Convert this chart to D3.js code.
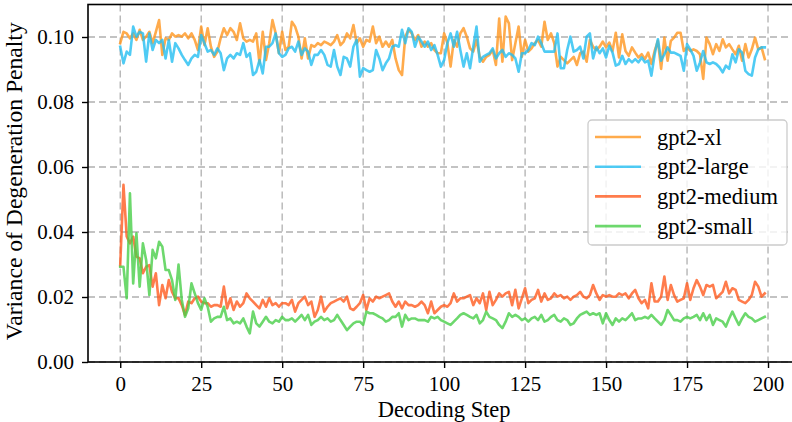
<!DOCTYPE html>
<html>
<head>
<meta charset="utf-8">
<script src="https://cdn.jsdelivr.net/npm/d3@7"></script>
<style>
  html, body { margin: 0; padding: 0; background: #fff; }
  svg { display: block; }
  text { font-family: "Liberation Serif", "Times New Roman", serif; fill: #000; }
</style>
</head>
<body>
<svg id="chart" width="792" height="422"></svg>
<script>
// ---------------- data ----------------
const seriesNames = ["gpt2-xl", "gpt2-large", "gpt2-medium", "gpt2-small"];
const xTicks = [0, 25, 50, 75, 100, 125, 150, 175, 200];
const yTicks = [0.00, 0.02, 0.04, 0.06, 0.08, 0.10];
const xLabel = "Decoding Step";
const yLabel = "Variance of Degeneration Penalty";

const gpt2XL = [
  0.0981,0.1016,0.1011,0.0996,0.1011,0.0991,0.1022,0.0991,0.1001,0.1016,
  0.0981,0.1016,0.1052,0.0945,0.0996,0.0991,0.1011,0.1001,0.1006,0.1001,
  0.1011,0.0996,0.1011,0.0991,0.0960,0.1032,0.0975,0.1027,0.0970,0.0939,
  0.0955,0.0996,0.1027,0.1006,0.1027,0.1016,0.0991,0.1042,0.0996,0.0986,
  0.0991,0.0986,0.1011,0.0919,
  0.1016,0.0929,0.0981,0.1052,0.1011,0.0950,0.1016,0.0960,0.0970,0.1047,
  0.1032,0.1001,0.0934,0.0996,0.0934,0.0975,0.0970,0.0981,0.0975,0.0986,
  0.0981,0.0975,0.0986,0.1006,0.0975,0.0986,0.1011,0.0996,0.1037,0.0981,
  0.0996,0.0970,0.0991,0.0986,0.1032,0.0981,0.1001,0.0970,0.0986,0.0970,
  0.0991,0.0934,0.0898,0.0883,0.1001,0.1022,0.1011,0.0991,0.1006,0.0970,
  0.0986,0.0970,0.0981,
  0.0960,0.0950,0.0950,0.1011,0.0981,0.0909,0.0991,0.0970,0.1011,0.1027,
  0.1001,0.0965,0.0955,0.0991,0.0939,0.0924,0.0939,0.0945,0.0960,0.0914,
  0.1057,0.0924,0.1063,0.1042,0.0929,0.0981,0.1032,0.0939,0.0991,0.0955,
  0.0965,0.0981,0.0991,0.0970,0.1047,0.0991,0.1011,0.0981,0.0909,0.0939,
  0.0929,0.0919,0.0929,0.0939,0.0914,0.0950,0.0955,0.0924,0.0991,0.0970,
  0.0960,0.0970,0.0986,
  0.0968,0.0983,0.0957,0.1013,0.0937,0.1008,0.0957,0.0942,0.0968,0.0952,
  0.0937,0.0947,0.0932,0.0952,0.0917,0.0957,0.0988,0.0902,0.0998,0.0927,
  0.0988,0.0998,0.1013,0.1013,0.0957,0.0968,0.0957,0.0962,0.0957,0.0947,
  0.0871,0.0998,0.0978,0.0947,0.0978,0.0957,0.0993,0.0968,0.0978,0.0962,
  0.0947,0.0973,0.0927,0.0978,0.0937,0.0962,0.0998,0.0962,0.0968,0.0932
];

const gpt2Large = [
  0.0970,0.0919,0.0955,0.0945,0.1032,0.1001,0.1016,0.1011,0.0924,0.1011,
  0.0960,0.0991,0.0981,0.0991,0.0934,0.0991,0.0924,0.0981,0.0965,0.0945,
  0.0929,0.0914,0.0934,0.0945,0.0939,0.1006,0.0981,0.0955,0.0960,0.0945,
  0.0965,0.0950,0.0898,0.0934,0.0945,0.0934,0.0950,0.0945,0.0981,0.0939,
  0.0950,0.0883,0.0893,0.0929,
  0.0888,0.0970,0.0970,0.0981,0.1011,0.0950,0.0939,0.0945,0.0965,0.0970,
  0.0955,0.0986,0.0945,0.0965,0.0955,0.0914,0.0945,0.0945,0.0960,0.0945,
  0.0914,0.0909,0.0960,0.0909,0.0883,0.0939,0.0934,0.0909,0.0970,0.0991,
  0.0878,0.0904,0.0898,0.0893,0.0898,0.0960,0.0934,0.0898,0.0919,0.0934,
  0.0970,0.0975,0.0970,0.1022,0.0981,0.1027,0.1016,0.0970,0.1001,0.0986,
  0.0970,0.0986,0.0960,
  0.0975,0.0945,0.0909,0.0929,0.0981,0.1011,0.0970,0.1016,0.0960,0.0909,
  0.0950,0.0904,0.0970,0.1032,0.0924,0.0939,0.0945,0.0950,0.0965,0.0934,
  0.0950,0.0960,0.0939,0.0950,0.0945,0.0934,0.0893,0.0950,0.0950,0.0960,
  0.0981,0.0975,0.1001,0.0981,0.0955,0.0955,0.0955,0.0955,0.1011,0.0904,
  0.0904,0.0960,0.1001,0.0955,0.0960,0.0970,0.0934,0.1001,0.1011,0.0934,
  0.0970,0.0950,0.0965,
  0.0937,0.0973,0.0952,0.0912,0.0917,0.0942,0.0917,0.0932,0.0922,0.0932,
  0.0922,0.0937,0.0922,0.0927,0.0881,0.0947,0.0993,0.0927,0.0947,0.0968,
  0.0952,0.0952,0.0947,0.0942,0.0896,0.0978,0.0962,0.0942,0.0896,0.0922,
  0.0957,0.0922,0.0917,0.0922,0.0917,0.0907,0.0891,0.0912,0.0902,0.0947,
  0.0922,0.0962,0.0952,0.0896,0.0886,0.0881,0.0937,0.0962,0.0968,0.0968
];

const gpt2Medium = [
  0.0298,0.0545,0.0386,0.0365,0.0386,0.0324,0.0319,0.0273,0.0293,0.0298,
  0.0232,0.0273,0.0175,0.0237,0.0196,0.0252,0.0216,0.0196,0.0196,0.0175,
  0.0145,0.0186,0.0181,0.0196,0.0201,0.0186,0.0181,0.0181,0.0170,0.0175,
  0.0175,0.0170,0.0232,0.0165,0.0196,0.0160,0.0186,0.0170,0.0181,0.0211,
  0.0196,0.0186,0.0175,0.0165,
  0.0191,0.0170,0.0196,0.0175,0.0181,0.0170,0.0181,0.0181,0.0175,0.0191,
  0.0155,0.0181,0.0191,0.0201,0.0175,0.0186,0.0139,0.0160,0.0201,0.0155,
  0.0170,0.0181,0.0186,0.0191,0.0196,0.0186,0.0201,0.0165,0.0160,0.0170,
  0.0181,0.0206,0.0160,0.0196,0.0186,0.0201,0.0196,0.0201,0.0206,0.0211,
  0.0186,0.0170,0.0186,0.0165,0.0186,0.0175,0.0175,0.0170,0.0175,0.0186,
  0.0175,0.0150,0.0186,
  0.0150,0.0160,0.0170,0.0175,0.0170,0.0181,0.0211,0.0186,0.0196,0.0196,
  0.0201,0.0206,0.0175,0.0196,0.0181,0.0211,0.0160,0.0216,0.0175,0.0191,
  0.0211,0.0201,0.0211,0.0216,0.0175,0.0222,0.0165,0.0196,0.0227,0.0181,
  0.0191,0.0196,0.0222,0.0186,0.0211,0.0191,0.0196,0.0211,0.0201,0.0206,
  0.0196,0.0201,0.0191,0.0201,0.0206,0.0216,0.0201,0.0196,0.0206,0.0237,
  0.0211,0.0191,0.0206,
  0.0201,0.0206,0.0201,0.0201,0.0211,0.0206,0.0211,0.0196,0.0211,0.0222,
  0.0196,0.0181,0.0191,0.0165,0.0242,0.0186,0.0186,0.0201,0.0263,0.0191,
  0.0237,0.0206,0.0186,0.0191,0.0196,0.0242,0.0191,0.0227,0.0252,0.0232,
  0.0206,0.0237,0.0232,0.0237,0.0196,0.0206,0.0216,0.0247,0.0211,0.0227,
  0.0222,0.0191,0.0186,0.0181,0.0191,0.0206,0.0247,0.0232,0.0201,0.0211
];

const gpt2Small = [
  0.0293,0.0293,0.0196,0.0519,0.0242,0.0396,0.0232,0.0365,0.0314,0.0206,
  0.0345,0.0319,0.0370,0.0355,0.0283,0.0283,0.0252,0.0191,0.0300,0.0191,
  0.0139,0.0165,0.0242,0.0211,0.0181,0.0160,0.0196,0.0170,0.0124,0.0134,
  0.0139,0.0139,0.0170,0.0129,0.0134,0.0119,0.0124,0.0119,0.0134,0.0109,
  0.0088,0.0155,0.0119,0.0109,
  0.0124,0.0139,0.0124,0.0119,0.0129,0.0124,0.0139,0.0129,0.0129,0.0134,
  0.0124,0.0134,0.0145,0.0129,0.0145,0.0114,0.0124,0.0129,0.0139,0.0129,
  0.0134,0.0124,0.0129,0.0145,0.0129,0.0114,0.0098,0.0109,0.0119,0.0124,
  0.0124,0.0114,0.0155,0.0150,0.0150,0.0145,0.0139,0.0134,0.0124,0.0129,
  0.0139,0.0139,0.0150,0.0109,0.0145,0.0129,0.0134,0.0134,0.0129,0.0129,
  0.0129,0.0124,0.0139,
  0.0134,0.0139,0.0129,0.0124,0.0119,0.0114,0.0124,0.0134,0.0145,0.0150,
  0.0145,0.0139,0.0134,0.0145,0.0119,0.0129,0.0155,0.0139,0.0134,0.0129,
  0.0114,0.0104,0.0124,0.0150,0.0139,0.0145,0.0139,0.0129,0.0134,0.0124,
  0.0134,0.0139,0.0129,0.0145,0.0124,0.0129,0.0139,0.0145,0.0129,0.0124,
  0.0134,0.0129,0.0114,0.0119,0.0134,0.0145,0.0150,0.0155,0.0145,0.0150,
  0.0145,0.0150,0.0119,
  0.0150,0.0129,0.0114,0.0134,0.0124,0.0134,0.0129,0.0139,0.0150,0.0129,
  0.0134,0.0134,0.0139,0.0134,0.0145,0.0134,0.0124,0.0114,0.0129,0.0160,
  0.0145,0.0129,0.0129,0.0124,0.0134,0.0139,0.0134,0.0139,0.0145,0.0129,
  0.0150,0.0129,0.0145,0.0114,0.0134,0.0129,0.0124,0.0109,0.0134,0.0155,
  0.0134,0.0114,0.0134,0.0150,0.0139,0.0134,0.0124,0.0129,0.0134,0.0139
];

const seriesValues = [gpt2XL, gpt2Large, gpt2Medium, gpt2Small];
const seriesColors = ["#ff961f", "#23bef1", "#ff5b1f", "#48ce48"];

// ---------------- layout ----------------
const svg = d3.select("#chart");
const plotLeft = 88, plotRight = 797, plotTop = 4.5, plotBottom = 362;
const x = d3.scaleLinear().domain([-9.95, 208.95]).range([plotLeft, plotRight]);
const y = d3.scaleLinear().domain([0, 0.11]).range([plotBottom, plotTop]);

// helper: size a text so that its rendered width matches a target width
function fitWidth(sel, target) {
  sel.attr("font-size", 20);
  const w = sel.node().getComputedTextLength();
  if (w > 0) sel.attr("font-size", 20 * target / w);
  return sel;
}

const defs = svg.append("defs");
defs.append("clipPath").attr("id", "plotClip")
  .append("rect").attr("x", plotLeft).attr("y", plotTop)
  .attr("width", plotRight - plotLeft).attr("height", plotBottom - plotTop);

// grid
const grid = svg.append("g").attr("class", "grid");
grid.selectAll("line.gx").data(xTicks).join("line")
  .attr("x1", d => x(d)).attr("x2", d => x(d))
  .attr("y1", plotTop).attr("y2", plotBottom)
  .attr("stroke", "#b0b0b0").attr("stroke-width", 1.3).attr("stroke-dasharray", "7,4");
grid.selectAll("line.gy").data(yTicks).join("line")
  .attr("x1", plotLeft).attr("x2", plotRight)
  .attr("y1", d => y(d)).attr("y2", d => y(d))
  .attr("stroke", "#b0b0b0").attr("stroke-width", 1.3).attr("stroke-dasharray", "7,4");

// lines
const line = d3.line().x((d, i) => x(i)).y(d => y(d));
const lines = svg.append("g").attr("clip-path", "url(#plotClip)");
seriesValues.forEach((vals, k) => {
  lines.append("path").datum(vals)
    .attr("d", line)
    .attr("fill", "none")
    .attr("stroke", seriesColors[k])
    .attr("stroke-opacity", 0.8)
    .attr("stroke-width", 2.6)
    .attr("stroke-linejoin", "round")
    .attr("stroke-linecap", "square");
});

// axes
const xAxis = d3.axisBottom(x).tickValues(xTicks).tickSize(6).tickPadding(8).tickFormat(d3.format("d"));
const yAxis = d3.axisLeft(y).tickValues(yTicks).tickSize(6).tickPadding(8).tickFormat(d3.format(".2f"));

const gx = svg.append("g").attr("transform", `translate(0,${plotBottom})`).call(xAxis);
const gy = svg.append("g").attr("transform", `translate(${plotLeft},0)`).call(yAxis);
[gx, gy].forEach(g => {
  g.select(".domain").remove();
  g.selectAll(".tick line").attr("stroke", "#000").attr("stroke-width", 1.4);
  g.selectAll(".tick text").attr("font-size", 21).attr("font-family", "Liberation Serif");
});

// spines
svg.append("rect")
  .attr("x", plotLeft).attr("y", plotTop)
  .attr("width", plotRight - plotLeft).attr("height", plotBottom - plotTop)
  .attr("fill", "none").attr("stroke", "#000").attr("stroke-width", 1.6);

// axis labels
const xl = svg.append("text")
  .attr("x", x(100)).attr("y", 416.5)
  .attr("text-anchor", "middle")
  .text(xLabel);
fitWidth(xl, 133);
const yl = svg.append("text")
  .attr("transform", `translate(22,${(plotTop + plotBottom) / 2 - 2}) rotate(-90)`)
  .attr("text-anchor", "middle")
  .text(yLabel);
fitWidth(yl, 318);

// legend
const lg = svg.append("g").attr("transform", "translate(588,120)");
lg.append("rect")
  .attr("x", 0).attr("y", 0).attr("width", 199).attr("height", 125)
  .attr("rx", 4).attr("ry", 4)
  .attr("fill", "#fff").attr("fill-opacity", 0.8)
  .attr("stroke", "#cccccc").attr("stroke-width", 1.3);
const legendTexts = [];
seriesNames.forEach((name, k) => {
  const cy = 17 + k * 29.7;
  lg.append("line")
    .attr("x1", 7).attr("x2", 53).attr("y1", cy).attr("y2", cy)
    .attr("stroke", seriesColors[k]).attr("stroke-opacity", 0.8)
    .attr("stroke-width", 2.6);
  legendTexts.push(lg.append("text")
    .attr("x", 69).attr("y", cy + 7.5)
    .text(name));
});
// size legend text so that the longest label matches the reference width
fitWidth(legendTexts[2], 121);
const legendFs = legendTexts[2].attr("font-size");
legendTexts.forEach(t => t.attr("font-size", legendFs));
</script>
</body>
</html>
